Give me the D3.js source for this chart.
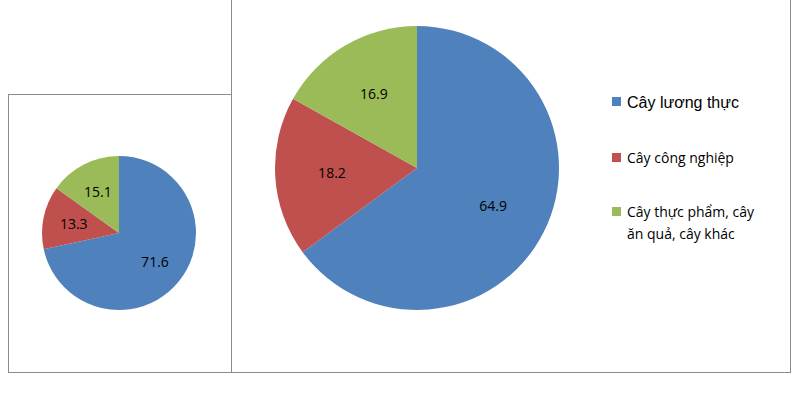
<!DOCTYPE html>
<html><head><meta charset="utf-8">
<script src="https://cdn.jsdelivr.net/npm/d3@7"></script>
<style>body{margin:0;background:#fff}</style></head>
<body><svg id="c" width="800" height="400"></svg>
<script>
const categories = ['Cây lương thực', 'Cây công nghiệp', 'Cây thực phẩm, cây ăn quả, cây khác'];
const valuesSmall = [71.6, 13.3, 15.1];
const valuesLarge = [64.9, 18.2, 16.9];
const colors = ['#4f81bd', '#c0504d', '#9bbb59'];

const svg = d3.select('#c');
svg.append('rect').attr('x', 8.5).attr('y', 94.5).attr('width', 223).attr('height', 278)
  .attr('fill', 'none').attr('stroke', '#8c8c8c');
svg.append('rect').attr('x', 231.5).attr('y', -1).attr('width', 559).attr('height', 373.5)
  .attr('fill', 'none').attr('stroke', '#8c8c8c');

function drawPie(vals, cx, cy, r) {
  const g = svg.append('g').attr('transform', `translate(${cx},${cy})`);
  const pie = d3.pie().sort(null)(vals);
  const arc = d3.arc().innerRadius(0).outerRadius(r);
  const labelArc = d3.arc().innerRadius(r * 0.6).outerRadius(r * 0.6);
  g.selectAll('path').data(pie).enter().append('path')
    .attr('d', arc).attr('fill', (d, i) => colors[i]);
  g.selectAll('text').data(pie).enter().append('text')
    .attr('transform', d => `translate(${labelArc.centroid(d)})`)
    .attr('text-anchor', 'middle').attr('dy', '0.35em')
    .style('font', '14px "Open Sans", sans-serif').attr('fill', '#000')
    .text(d => d.data);
}
drawPie(valuesSmall, 119, 233, 77);
drawPie(valuesLarge, 417, 168, 142);

const leg = svg.append('g');
const legY = [102, 158, 212];
categories.forEach((c, i) => {
  leg.append('rect').attr('x', 612).attr('y', legY[i] - 5).attr('width', 9).attr('height', 9).attr('fill', colors[i]);
  const t = leg.append('text').attr('x', 627).attr('y', legY[i]).attr('dy', '0.35em').attr('fill', '#000');
  if (i === 0) {
    t.style('font', '16px "Liberation Sans", Arial, sans-serif').text(c);
  } else if (i === 2) {
    t.style('font', '14px "Open Sans", sans-serif');
    t.append('tspan').attr('x', 627).text('Cây thực phẩm, cây');
    t.append('tspan').attr('x', 627).attr('dy', '1.6em').text('ăn quả, cây khác');
  } else {
    t.style('font', '14px "Open Sans", sans-serif').text(c);
  }
});
</script></body></html>
